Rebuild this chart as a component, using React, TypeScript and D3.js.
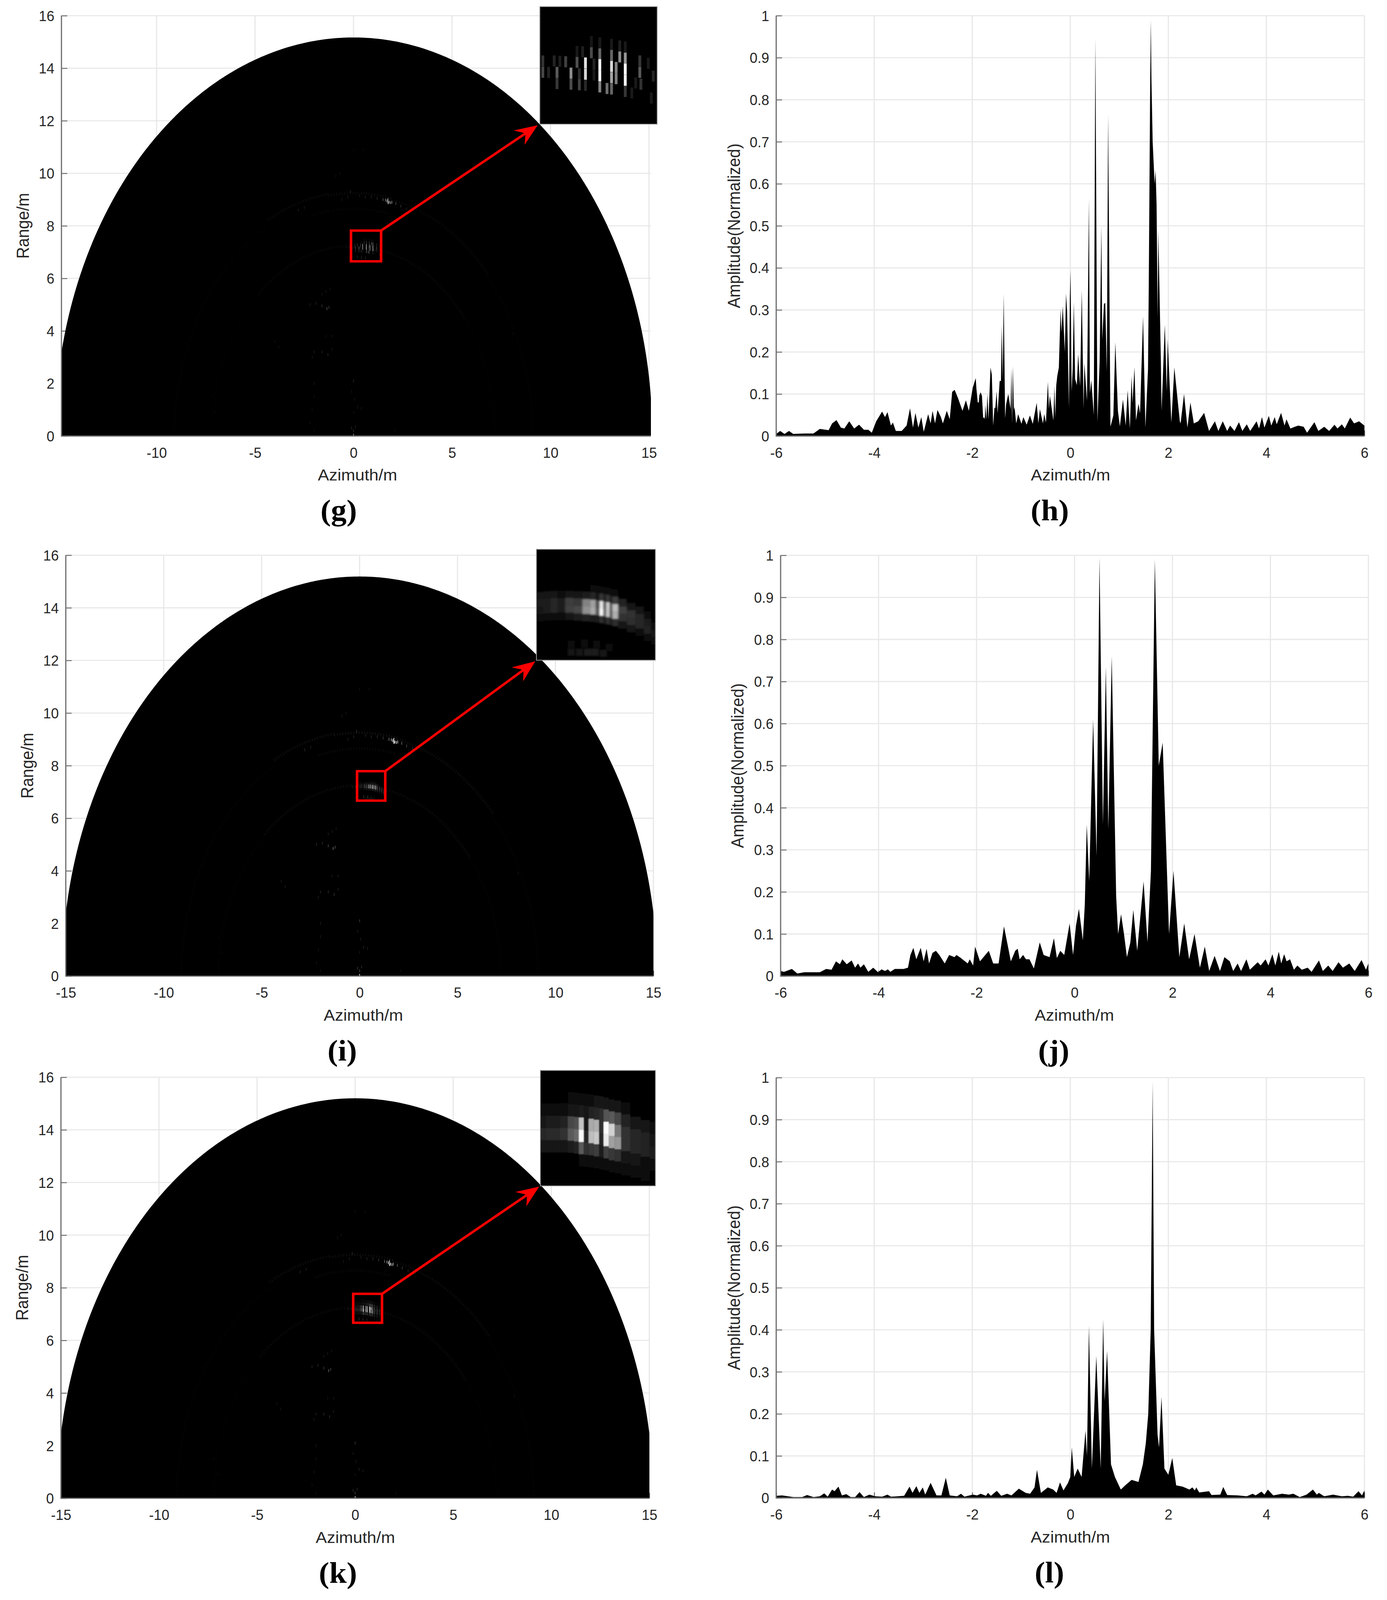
import { useEffect, useRef } from 'react';
import * as d3 from 'd3';

type Pt = [number, number];

const hProfile: Pt[] = [
  [-6, .005], [-5.92, .012], [-5.83, .005], [-5.74, .012], [-5.65, .005], [-5.42, .006], [-5.24, .006], [-5.11, .017],
  [-4.93, .014], [-4.86, .03], [-4.77, .038], [-4.68, .02], [-4.61, .018], [-4.51, .035], [-4.41, .018], [-4.31, .027],
  [-4.21, .015], [-4.12, .015], [-4.05, .008], [-3.96, .035], [-3.84, .058], [-3.78, .045], [-3.73, .057], [-3.66, .025],
  [-3.62, .032], [-3.56, .012], [-3.44, .012], [-3.34, .025], [-3.27, .066], [-3.21, .02], [-3.16, .055], [-3.1, .02],
  [-3.04, .045], [-2.99, .01], [-2.9, .052], [-2.85, .03], [-2.81, .06], [-2.76, .03], [-2.71, .062], [-2.64, .045],
  [-2.6, .03], [-2.52, .06], [-2.46, .04], [-2.41, .105], [-2.36, .11], [-2.29, .09], [-2.2, .06], [-2.13, .085],
  [-2.07, .06], [-1.99, .115], [-1.93, .138], [-1.915, .112], [-1.888, .08], [-1.867, .08], [-1.856, .097], [-1.83, .104],
  [-1.803, .096], [-1.777, .042], [-1.761, .045], [-1.745, .04], [-1.734, .074], [-1.713, .04], [-1.691, .1], [-1.67, .04],
  [-1.628, .163], [-1.601, .146], [-1.574, .025], [-1.548, .067], [-1.53, .067], [-1.503, .107], [-1.484, .054], [-1.441, .131],
  [-1.415, .131], [-1.399, .262], [-1.378, .134], [-1.359, .339], [-1.33, .042], [-1.309, .076], [-1.266, .1], [-1.218, .064],
  [-1.202, .161], [-1.189, .029], [-1.173, .166], [-1.152, .062], [-1.138, .069], [-1.104, .03], [-1.064, .052], [-.997, .029],
  [-.957, .045], [-.891, .027], [-.824, .049], [-.766, .029], [-.686, .079], [-.652, .03], [-.62, .064], [-.559, .03],
  [-.532, .052], [-.497, .032], [-.457, .129], [-.436, .065], [-.418, .096], [-.399, .082], [-.346, .037], [-.324, .119],
  [-.309, .044], [-.287, .121], [-.266, .143], [-.234, .163], [-.199, .302], [-.181, .247], [-.154, .309], [-.112, .2],
  [-.088, .339], [-.066, .297], [-.027, .067], [-.01, .325], [.005, .394], [.027, .106], [.048, .159], [.072, .319],
  [.098, .136], [.133, .121], [.16, .195], [.2, .119], [.234, .347], [.271, .065], [.287, .173], [.34, .084],
  [.38, .565], [.4, .102], [.428, .133], [.479, .05], [.511, .947], [.553, .034], [.598, .176], [.633, .5],
  [.652, .23], [.686, .314], [.713, .317], [.745, .153], [.771, .765], [.819, .022], [.878, .049], [.918, .223],
  [.971, .06], [1.011, .023], [1.074, .087], [1.13, .025], [1.17, .109], [1.215, .018], [1.25, .143], [1.269, .079],
  [1.309, .163], [1.34, .037], [1.391, .077], [1.423, .054], [1.484, .285], [1.532, .02], [1.585, .159], [1.6, .35],
  [1.615, .6], [1.63, .85], [1.643, .99], [1.655, .85], [1.68, .7], [1.72, .6], [1.74, .632], [1.76, .55],
  [1.782, .28], [1.795, .49], [1.848, .176], [1.862, .06], [1.928, .265], [1.968, .106], [1.987, .23], [2.061, .032],
  [2.122, .163], [2.234, .035], [2.25, .03], [2.32, .1], [2.39, .02], [2.45, .08], [2.52, .03], [2.61, .035],
  [2.73, .055], [2.83, .012], [2.95, .035], [3.02, .012], [3.11, .035], [3.2, .012], [3.26, .025], [3.35, .012],
  [3.44, .033], [3.51, .012], [3.6, .028], [3.67, .012], [3.8, .035], [3.85, .018], [3.91, .045], [3.96, .02],
  [4.05, .048], [4.1, .025], [4.17, .045], [4.21, .028], [4.3, .055], [4.37, .025], [4.41, .04], [4.49, .018],
  [4.58, .022], [4.65, .025], [4.76, .022], [4.83, .008], [4.98, .033], [5.06, .012], [5.18, .022], [5.28, .012],
  [5.39, .027], [5.45, .018], [5.54, .028], [5.6, .018], [5.71, .044], [5.79, .03], [5.89, .035], [6, .025],
];

const jProfile: Pt[] = [
  [-6, .012], [-5.93, .01], [-5.77, .017], [-5.66, .006], [-5.52, .009], [-5.2, .009], [-5.07, .017], [-4.96, .015],
  [-4.87, .035], [-4.79, .028], [-4.74, .04], [-4.65, .028], [-4.55, .037], [-4.48, .02], [-4.42, .03], [-4.37, .02],
  [-4.3, .028], [-4.21, .01], [-4.11, .02], [-4.01, .009], [-3.94, .016], [-3.87, .012], [-3.81, .016], [-3.76, .01],
  [-3.67, .017], [-3.49, .017], [-3.4, .02], [-3.35, .05], [-3.29, .067], [-3.23, .04], [-3.14, .067], [-3.08, .035],
  [-3.02, .065], [-2.97, .03], [-2.9, .055], [-2.83, .06], [-2.76, .05], [-2.65, .03], [-2.56, .05], [-2.45, .045],
  [-2.41, .05], [-2.32, .043], [-2.18, .03], [-2.14, .04], [-2.07, .025], [-2.03, .07], [-1.93, .035], [-1.75, .06],
  [-1.66, .03], [-1.55, .03], [-1.44, .118], [-1.35, .065], [-1.3, .035], [-1.21, .06], [-1.16, .065], [-1.12, .04],
  [-1.05, .05], [-.99, .04], [-.92, .04], [-.83, .018], [-.71, .08], [-.63, .05], [-.51, .045], [-.42, .09],
  [-.36, .043], [-.29, .06], [-.21, .05], [-.1, .125], [-.03, .05], [.03, .12], [.09, .16], [.17, .085],
  [.21, .17], [.25, .36], [.3, .225], [.38, .61], [.45, .285], [.51, .995], [.58, .36], [.64, .735],
  [.69, .35], [.76, .76], [.85, .19], [.89, .1], [.95, .147], [1.01, .1], [1.07, .045], [1.14, .08],
  [1.2, .157], [1.28, .06], [1.41, .225], [1.49, .08], [1.56, .25], [1.64, .99], [1.72, .5], [1.8, .555],
  [1.93, .1], [2.02, .25], [2.14, .045], [2.24, .125], [2.34, .04], [2.45, .1], [2.56, .02], [2.66, .07],
  [2.75, .012], [2.86, .048], [2.97, .012], [3.06, .045], [3.17, .035], [3.24, .012], [3.33, .03], [3.4, .012],
  [3.51, .04], [3.58, .015], [3.74, .033], [3.8, .025], [3.9, .04], [3.96, .025], [4.04, .052], [4.1, .025],
  [4.17, .058], [4.22, .03], [4.28, .052], [4.33, .035], [4.4, .04], [4.48, .015], [4.55, .025], [4.64, .015],
  [4.76, .02], [4.84, .01], [4.99, .037], [5.07, .012], [5.18, .025], [5.27, .012], [5.39, .033], [5.48, .02],
  [5.61, .03], [5.72, .012], [5.86, .038], [5.95, .015], [6, .03],
];

const lProfile: Pt[] = [
  [-6, .005], [-5.88, .006], [-5.65, .002], [-5.47, .002], [-5.37, .007], [-5.24, .002], [-5.11, .004], [-5.02, .011],
  [-4.95, .003], [-4.86, .02], [-4.81, .016], [-4.73, .027], [-4.66, .006], [-4.57, .009], [-4.48, .002], [-4.39, .002],
  [-4.3, .014], [-4.21, .002], [-4.1, .008], [-3.98, .004], [-3.84, .003], [-3.73, .008], [-3.66, .003], [-3.39, .005],
  [-3.28, .027], [-3.22, .012], [-3.14, .028], [-3.08, .012], [-3.01, .025], [-2.96, .008], [-2.85, .036], [-2.73, .006],
  [-2.63, .006], [-2.54, .048], [-2.46, .006], [-2.31, .004], [-2.23, .01], [-2.16, .003], [-1.99, .008], [-1.9, .006],
  [-1.83, .01], [-1.72, .005], [-1.68, .012], [-1.62, .005], [-1.5, .017], [-1.41, .005], [-1.29, .01], [-1.2, .006],
  [-1.05, .022], [-.91, .012], [-.82, .01], [-.73, .025], [-.68, .067], [-.6, .012], [-.46, .025], [-.35, .02],
  [-.28, .012], [-.21, .037], [-.14, .018], [-.05, .035], [0, .05], [.03, .12], [.08, .05], [.15, .07],
  [.23, .05], [.31, .16], [.34, .1], [.38, .41], [.44, .07], [.53, .338], [.62, .07], [.67, .425],
  [.7, .23], [.75, .35], [.83, .08], [.91, .05], [1.03, .02], [1.12, .03], [1.25, .043], [1.39, .038],
  [1.48, .08], [1.54, .13], [1.59, .2], [1.64, .4], [1.68, .99], [1.71, .4], [1.78, .15], [1.81, .12],
  [1.86, .24], [1.92, .07], [2, .055], [2.08, .095], [2.16, .03], [2.29, .027], [2.43, .02], [2.49, .025],
  [2.54, .018], [2.57, .025], [2.63, .013], [2.83, .016], [2.88, .007], [3.06, .008], [3.12, .026], [3.2, .007],
  [3.42, .006], [3.6, .004], [3.72, .01], [3.78, .006], [3.9, .015], [3.96, .008], [4.03, .02], [4.14, .006],
  [4.32, .01], [4.46, .008], [4.55, .01], [4.68, .002], [4.82, .008], [4.95, .02], [5.03, .008], [5.07, .012],
  [5.18, .004], [5.36, .008], [5.54, .004], [5.66, .005], [5.77, .003], [5.88, .016], [5.95, .006], [6, .018],
];

// target at about (0.6, 7.2): single resolution cells for panel g, [azimuth, range, gray]
const gCells: [number, number, number][] = [
  [-.091, 7.279, 50], [-.091, 7.167, 70], [-.016, 7.165, 35], [.057, 7.279, 35], [.094, 7.165, 90], [.094, 7.054, 55],
  [.132, 7.276, 30], [.207, 7.271, 65], [.276, 7.158, 140], [.276, 7.048, 75], [.355, 7.266, 80], [.355, 7.374, 25],
  [.385, 7.152, 45], [.385, 7.042, 65], [.428, 7.37, 30], [.465, 7.259, 225], [.465, 7.147, 215], [.465, 7.036, 40],
  [.542, 7.361, 75], [.542, 7.471, 22], [.576, 7.247, 35], [.576, 7.139, 25], [.652, 7.351, 100], [.652, 7.242, 250],
  [.652, 7.132, 250], [.652, 7.021, 130], [.652, 7.459, 25], [.746, 7.005, 110], [.805, 7.336, 100], [.805, 7.225, 215],
  [.805, 7.113, 165], [.805, 7.445, 25], [.805, 7, 100], [.865, 7.214, 130], [.865, 7.103, 125], [.912, 7.32, 140],
  [.912, 7.429, 30], [.984, 7.308, 150], [.984, 7.198, 255], [.984, 7.087, 250], [.984, 6.975, 55], [.984, 7.418, 25],
  [1.069, 6.96, 25], [1.12, 7.06, 25], [1.174, 7.279, 55], [1.174, 7.166, 90], [1.188, 7.048, 50], [1.284, 7.256, 25],
  [1.324, 6.91, 25], [1.349, 7.128, 35],
];

// panels i and k: columns of the same target, gray per range row around a curved band centre
const iColAz = [-.088, -.001, .085, .171, .265, .375, .477, .564, .611, .658, .697, .736, .772, .807, .909, 1.019, 1.12, 1.222, 1.293];
const iColCentre = [7.211, 7.218, 7.224, 7.224, 7.224, 7.218, 7.211, 7.205, 7.199, 7.193, 7.186, 7.18, 7.171, 7.162, 7.137, 7.1, 7.063, 7.013, 6.976];
const iRowOffset = [.186, .112, .037, -.037, -.112];
const iRowGray = [
  [0, 0, 0, 0, 0, 0, 5, 8, 12, 14, 14, 14, 14, 12, 6, 0, 0, 0, 0],
  [18, 18, 18, 10, 22, 25, 28, 40, 25, 55, 35, 55, 35, 60, 35, 20, 18, 12, 5],
  [30, 30, 40, 30, 60, 55, 130, 160, 80, 235, 100, 205, 95, 190, 65, 50, 40, 28, 15],
  [25, 30, 40, 30, 65, 70, 145, 170, 90, 255, 110, 200, 90, 175, 50, 45, 40, 35, 20],
  [12, 15, 15, 15, 22, 28, 35, 30, 30, 50, 30, 50, 28, 45, 25, 18, 15, 15, 10],
];
const iLowerCells: [number, number, number][] = [
  [.29, 6.75, 18], [.39, 6.75, 25], [.49, 6.75, 28], [.58, 6.75, 28], [.68, 6.74, 22],
  [.29, 6.83, 12], [.45, 6.84, 14], [.6, 6.83, 14], [.75, 6.8, 12],
];

const kColAz = [-.067, .017, .1, .2, .3, .358, .424, .483, .549, .616, .683, .733, .816, .882, .982, 1.115, 1.249, 1.349];
const kColCentre = [7.222, 7.222, 7.222, 7.222, 7.216, 7.21, 7.204, 7.199, 7.193, 7.183, 7.175, 7.164, 7.146, 7.135, 7.117, 7.094, 7.065, 7.047];
const kRowOffset = [.29, .175, .058, -.058, -.175, -.29];
const kRowGray = [
  [4, 5, 5, 6, 8, 10, 14, 14, 16, 18, 20, 22, 22, 18, 10, 6, 4, 3],
  [12, 14, 15, 15, 18, 25, 30, 25, 35, 40, 45, 85, 90, 70, 35, 25, 18, 12],
  [25, 28, 28, 32, 70, 80, 195, 25, 170, 175, 45, 250, 210, 120, 50, 40, 35, 25],
  [40, 42, 42, 50, 90, 105, 250, 40, 190, 200, 40, 235, 160, 150, 50, 40, 35, 30],
  [18, 20, 20, 22, 28, 35, 90, 50, 55, 60, 30, 65, 55, 50, 25, 20, 15, 12],
  [0, 0, 0, 0, 4, 5, 8, 8, 8, 8, 8, 8, 8, 8, 8, 8, 8, 6],
];

// rest of the scene, weak scatterers shared by the three radar images
const sceneCells: [number, number, number][] = [
  [-.15, 9.3, 45], [-.3, 9.1, 30], [-.6, 9, 25], [.3, 9.15, 30], [.6, 9.1, 35], [.9, 9.1, 40], [1.2, 9.05, 50], [1.5, 9, 110],
  [1.62, 8.98, 160], [1.7, 8.95, 230], [1.75, 8.88, 220], [1.75, 9, 200], [1.8, 8.9, 255], [1.88, 8.88, 200], [1.95, 8.9, 150],
  [2.15, 8.85, 90], [2.4, 8.75, 60], [2.7, 8.65, 40], [-2.8, 8.6, 35], [-2.5, 8.7, 30],
  [-.7, 10, 20], [-.9, 9.9, 20], [0, 10.9, 15], [.5, 10.9, 15], [-1.6, 4.95, 60], [-1.35, 4.85, 100], [-1.25, 4.9, 70], [-2.2, 5, 35],
  [-1.9, 5.05, 35], [-1.4, 5.5, 25], [-1.6, 5.4, 25], [-1.2, 5.6, 20], [-2, 3.2, 35], [-1.6, 3.2, 40], [-1.3, 3.1, 45], [-1.1, 3.3, 30],
  [-1.4, 3.8, 20], [-1.1, 3.8, 25], [-2.1, 3, 25], [-2, 2, 25], [-2, 1.5, 22], [-2.1, 1, 20], [-2.2, .5, 18], [0, 2.1, 50],
  [-.1, 1.7, 25], [.05, 1.4, 25], [.2, 1.1, 30], [.4, 1.05, 25], [0, .9, 20], [-.1, .3, 45], [0, .2, 60], [.1, .35, 40],
  [0, .03, 200], [-2, .2, 15], [2.1, .2, 15], [-4, 3.6, 22], [-3.8, 3.4, 20], [8.1, 3.9, 18], [-7, .9, 10], [-7.2, 1.5, 10],
  [.2, 6.82, 45], [.4, 6.8, 45], [.6, 6.78, 35],
];

// faint range arcs: radius, from angle, to angle (degrees off boresight), gray
const sceneArcs: [number, number, number, number][] = [
  [9.3, -28, -8, 18], [9.25, -8, 12, 20], [9.2, 12, 48, 16], [7.25, -42, -3, 14], [7.2, -3, 10, 26], [7.2, 10, 52, 14],
  [8.65, -14, 12, 12], [9.1, 48, 90, 5], [9.1, -90, -28, 5], [7.2, 52, 90, 4], [7.2, -90, -42, 4],
];

const imageAzTicks = [-15, -10, -5, 0, 5, 10, 15];
const rangeTicks = [0, 2, 4, 6, 8, 10, 12, 14, 16];
const profileAzTicks = [-6, -4, -2, 0, 2, 4, 6];
const ampTicks = [0, .1, .2, .3, .4, .5, .6, .7, .8, .9, 1];

type Cell = [number, number, number, number?];

function bandCells(az: number[], centre: number[], offsets: number[], grays: number[][]) {
  const cells: Cell[] = [];
  az.forEach((a, c) => {
    // column runs up to the midpoints with its neighbours
    const lo = c > 0 ? (az[c - 1] + a) / 2 : a - (az[1] - a) / 2;
    const hi = c < az.length - 1 ? (a + az[c + 1]) / 2 : a + (a - az[c - 1]) / 2;
    offsets.forEach((o, r) => {
      if (grays[r][c] > 0) cells.push([(lo + hi) / 2, centre[c] + o, grays[r][c], hi - lo]);
    });
  });
  return cells;
}

const images = [
  {
    label: '(g)', labelX: 867, left: 157.3, right: 1666, top: 42.5, bottom: 1183.6, azDomain: [-14.83, 15.1], radius: 15.17,
    titleX: 915, yTitleX: 73.5, gain: .7, cellW: .037, cellH: .11, cells: gCells as Cell[],
    box: { az: [-.13, 1.4], range: [6.65, 7.82] }, inset: { x0: 1381.7, x1: 1682, y0: 18, y1: 337 }, tip: [1376, 340], blur: 0,
  },
  {
    label: '(i)', labelX: 876, left: 168.4, right: 1672.4, top: 1507, bottom: 2649.5, azDomain: [-15, 15], radius: 15.19,
    titleX: 930, yTitleX: 84.5, gain: 1, cellW: .086, cellH: .075, cells: [...bandCells(iColAz, iColCentre, iRowOffset, iRowGray), ...(iLowerCells as Cell[])],
    box: { az: [-.13, 1.31], range: [6.67, 7.79] }, inset: { x0: 1373, x1: 1677.5, y0: 1491, y1: 1792 }, tip: [1370, 1795], blur: 2.5,
  },
  {
    label: '(k)', labelX: 865, left: 156, right: 1662, top: 2924, bottom: 4067, azDomain: [-15, 15], radius: 15.2,
    titleX: 909.5, yTitleX: 72, gain: .85, cellW: .07, cellH: .117, cells: bandCells(kColAz, kColCentre, kRowOffset, kRowGray),
    box: { az: [-.1, 1.37], range: [6.67, 7.77] }, inset: { x0: 1383, x1: 1677.6, y0: 2905.6, y1: 3219 }, tip: [1380, 3221], blur: 1,
  },
];

const profiles = [
  { label: '(h)', labelX: 2687, left: 1986.7, right: 3492.2, top: 42.5, bottom: 1183.6, titleX: 2740, yTitleX: 1894, data: hProfile },
  { label: '(j)', labelX: 2697, left: 1998, right: 3502.4, top: 1507.3, bottom: 2649.4, titleX: 2749.7, yTitleX: 1903, data: jProfile },
  { label: '(l)', labelX: 2686, left: 1986.7, right: 3492.2, top: 2925, bottom: 4066, titleX: 2739.5, yTitleX: 1894, data: lProfile },
];

const TEXT = '#262626';
const GRID = '#e8e8e8';
const AXIS = '#6e6e6e';
const SANS = '"Liberation Sans", Arial, sans-serif';
const REF_W = 3550;
const REF_H = 4343;

function axes(svg: any, p: any, x: any, y: any, xTicks: number[], yTicks: number[], yTitle: string) {
  const g = svg.append('g');
  xTicks.forEach(t => g.append('line').attr('x1', x(t)).attr('x2', x(t)).attr('y1', p.top).attr('y2', p.bottom).attr('stroke', GRID).attr('stroke-width', 3));
  yTicks.forEach(t => g.append('line').attr('x1', p.left).attr('x2', p.right).attr('y1', y(t)).attr('y2', y(t)).attr('stroke', GRID).attr('stroke-width', 3));

  const xAxis = g.append('g').attr('transform', `translate(0,${p.bottom})`)
    .call(d3.axisBottom(x).tickValues(xTicks).tickSizeInner(-15).tickSizeOuter(0).tickFormat((d: any) => String(d)));
  const yAxis = g.append('g').attr('transform', `translate(${p.left},0)`)
    .call(d3.axisLeft(y).tickValues(yTicks).tickSizeInner(-15).tickSizeOuter(0).tickFormat((d: any) => String(d)));
  [xAxis, yAxis].forEach(a => {
    a.selectAll('.domain').remove();
    a.selectAll('line').attr('stroke', AXIS).attr('stroke-width', 2.5);
    a.selectAll('text').attr('font-family', SANS).attr('font-size', 40).attr('fill', TEXT).attr('dy', null);
  });
  xAxis.selectAll('text').attr('y', 59).attr('transform', 'scale(.9,1)');
  yAxis.selectAll('text').attr('x', -20).attr('y', 14).attr('transform', 'scale(.9,1)');

  svg.append('text').attr('x', p.titleX).attr('y', p.bottom + 121).attr('text-anchor', 'middle')
    .attr('font-family', SANS).attr('font-size', 43).attr('fill', TEXT).text('Azimuth/m');
  const mid = (p.top + p.bottom) / 2;
  svg.append('text').attr('transform', `translate(${p.yTitleX},${mid}) rotate(-90)`).attr('text-anchor', 'middle')
    .attr('font-family', SANS).attr('font-size', 44).attr('fill', TEXT).text(yTitle);
  svg.append('text').attr('x', p.labelX).attr('y', p.bottom + 229).attr('text-anchor', 'middle')
    .attr('font-family', '"Liberation Serif", serif').attr('font-weight', 'bold').attr('font-size', 80).attr('fill', '#000').text(p.label);
}

function axisLines(svg: any, p: any) {
  svg.append('path').attr('d', `M${p.left},${p.top}V${p.bottom}H${p.right}`).attr('fill', 'none').attr('stroke', AXIS).attr('stroke-width', 3);
}

function cellRects(g: any, cells: Cell[], x: any, y: any, w: number, h: number, gain: number, widthScale = 1) {
  const half = (d: Cell) => (d[3] ?? w) * widthScale / 2;
  g.selectAll(null).data(cells).join('rect')
    .attr('x', (d: Cell) => x(d[0] - half(d)))
    .attr('width', (d: Cell) => x(d[0] + half(d)) - x(d[0] - half(d)))
    .attr('y', (d: Cell) => y(d[1] + h / 2))
    .attr('height', (d: Cell) => y(d[1] - h / 2) - y(d[1] + h / 2))
    .attr('fill', (d: Cell) => { const v = Math.round(d[2] * gain); return `rgb(${v},${v},${v})`; });
}

export default function App() {
  const ref = useRef<SVGSVGElement | null>(null);

  // the sandbox window stops at 4096px tall, so fit the 4343 drawing to what is really there
  const pageH = Math.min(REF_H, window.innerHeight || REF_H);

  useEffect(() => {
    const svg = d3.select(ref.current);
    svg.selectAll('*').remove();
    const defs = svg.append('defs');

    images.forEach((p, i) => {
      const x = d3.scaleLinear().domain(p.azDomain).range([p.left, p.right]);
      const y = d3.scaleLinear().domain([0, 16]).range([p.bottom, p.top]);
      axes(svg, p, x, y, imageAzTicks.filter(t => t >= p.azDomain[0] && t <= p.azDomain[1]), rangeTicks, 'Range/m');

      defs.append('clipPath').attr('id', `plot${i}`).append('rect')
        .attr('x', p.left).attr('y', p.top).attr('width', p.right - p.left).attr('height', p.bottom - p.top);
      const g = svg.append('g').attr('clip-path', `url(#plot${i})`);

      const polar = (r: number) => d3.line<number>()
        .x(a => x(r * Math.sin(a * Math.PI / 180)))
        .y(a => y(r * Math.cos(a * Math.PI / 180)));
      g.append('path').attr('d', polar(p.radius)(d3.range(-90, 90.5, .5))!).attr('fill', '#000');

      sceneArcs.forEach(([r, from, to, gray]) => {
        const v = Math.round(gray * p.gain);
        g.append('path').attr('d', polar(r)(d3.range(from, to + .25, .25))!)
          .attr('fill', 'none').attr('stroke', `rgb(${v},${v},${v})`).attr('stroke-width', 7).attr('stroke-dasharray', '2 5');
      });
      cellRects(g, sceneCells, x, y, .04, .11, p.gain);
      cellRects(g, p.cells, x, y, p.cellW, p.cellH, 1, .6);
      axisLines(svg, p);

      // red box on the target and its enlarged view
      const bx0 = x(p.box.az[0]), bx1 = x(p.box.az[1]), by0 = y(p.box.range[1]), by1 = y(p.box.range[0]);
      svg.append('rect').attr('x', bx0).attr('y', by0).attr('width', bx1 - bx0).attr('height', by1 - by0)
        .attr('fill', 'none').attr('stroke', '#ff0000').attr('stroke-width', 6.5);

      const [tx, ty] = p.tip;
      const ang = Math.atan2(ty - by0, tx - bx1);
      const at = (along: number, across: number) => [
        tx + along * Math.cos(ang) - across * Math.sin(ang),
        ty + along * Math.sin(ang) + across * Math.cos(ang),
      ];
      svg.append('line').attr('x1', bx1).attr('y1', by0).attr('x2', at(-30, 0)[0]).attr('y2', at(-30, 0)[1])
        .attr('stroke', '#ff0000').attr('stroke-width', 6.5);
      svg.append('path').attr('fill', '#ff0000')
        .attr('d', `M${at(0, 0)}L${at(-58, -24)}L${at(-38, 0)}L${at(-58, 24)}Z`);

      const { x0, x1, y0, y1 } = p.inset;
      defs.append('clipPath').attr('id', `inset${i}`).append('rect').attr('x', x0).attr('y', y0).attr('width', x1 - x0).attr('height', y1 - y0);
      if (p.blur) defs.append('filter').attr('id', `soft${i}`).append('feGaussianBlur').attr('stdDeviation', p.blur);
      svg.append('rect').attr('x', x0).attr('y', y0).attr('width', x1 - x0).attr('height', y1 - y0).attr('fill', '#000');
      const ix = d3.scaleLinear().domain(p.box.az).range([x0, x1]);
      const iy = d3.scaleLinear().domain(p.box.range).range([y1, y0]);
      const clip = svg.append('g').attr('clip-path', `url(#inset${i})`);
      const inner = clip.append('g');
      if (p.blur) inner.attr('filter', `url(#soft${i})`);
      cellRects(inner, p.cells, ix, iy, p.cellW, p.cellH, 1);
      svg.append('rect').attr('x', x0).attr('y', y0).attr('width', x1 - x0).attr('height', y1 - y0)
        .attr('fill', 'none').attr('stroke', '#9a9a9a').attr('stroke-width', 2);
    });

    profiles.forEach(p => {
      const x = d3.scaleLinear().domain([-6, 6]).range([p.left, p.right]);
      const y = d3.scaleLinear().domain([0, 1]).range([p.bottom, p.top]);
      axes(svg, p, x, y, profileAzTicks, ampTicks, 'Amplitude(Normalized)');
      const area = d3.area<Pt>().x(d => x(d[0])).y0(y(0)).y1(d => y(d[1]));
      svg.append('path').datum(p.data).attr('d', area).attr('fill', '#000');
      axisLines(svg, p);
    });
  }, []);

  return (
    <svg
      ref={ref}
      width={REF_W}
      height={pageH}
      viewBox={`0 0 ${REF_W} ${REF_H}`}
      preserveAspectRatio="none"
      style={{ position: 'absolute', left: 0, top: 0, display: 'block', background: '#fff' }}
    />
  );
}
